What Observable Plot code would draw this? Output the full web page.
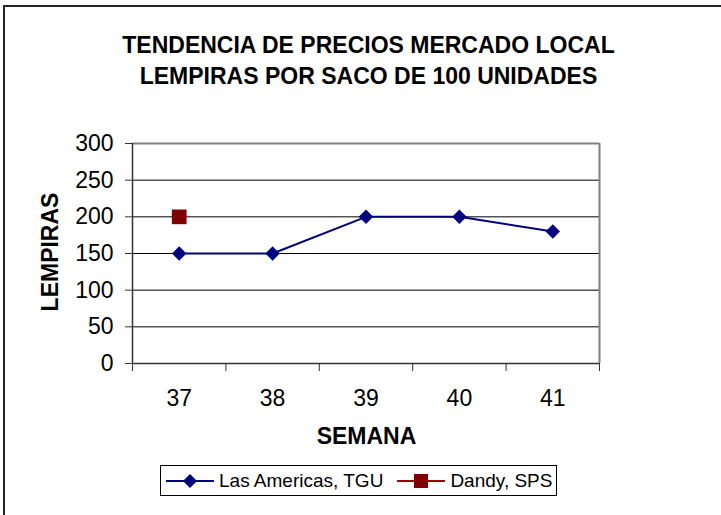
<!DOCTYPE html>
<html>
<head>
<meta charset="utf-8">
<script src="https://cdn.jsdelivr.net/npm/d3@7"></script>
<script src="https://cdn.jsdelivr.net/npm/@observablehq/plot@0.6"></script>
<style>
  html, body { margin: 0; padding: 0; background: #fff; overflow: hidden; width: 721px; height: 515px; }
  #wrap { position: relative; width: 721px; height: 515px; font-family: Arial, "Liberation Sans", sans-serif; }
  #border { position: absolute; left: 3px; top: 5px; width: 800px; height: 600px; border: 2px solid #222; box-sizing: border-box; }
  #chart { position: absolute; left: 0; top: 0; }
  .title { position: absolute; left: 0; width: 737px; text-align: center; font-weight: bold; font-size: 23px; line-height: 31px; top: 30px; color: #000; }
  .xlabel { position: absolute; left: 0; width: 733px; text-align: center; font-weight: bold; font-size: 23px; line-height: 28px; top: 422px; color: #000; }
  .ylabel { position: absolute; left: 49.5px; top: 252px; transform: translate(-50%, -50%) rotate(-90deg); font-weight: bold; font-size: 23px; line-height: 23px; white-space: nowrap; color: #000; }
  #legend { position: absolute; left: 160px; top: 465px; width: 397px; height: 31px; border: 1px solid #000; box-sizing: border-box; font-size: 19px; display: flex; align-items: center; padding-left: 5px; white-space: nowrap; }
  #legend .item { display: flex; align-items: center; }
  #legend svg { display: block; }
</style>
</head>
<body>
<div id="wrap">
  <div id="border"></div>
  <div id="chart"></div>
  <div class="title">TENDENCIA DE PRECIOS MERCADO LOCAL<br>LEMPIRAS POR SACO DE 100 UNIDADES</div>
  <div class="ylabel">LEMPIRAS</div>
  <div class="xlabel">SEMANA</div>
  <div id="legend"></div>
</div>
<script>
// ---- data ----
const weeks = [37, 38, 39, 40, 41];
const lasAmericas = [150, 150, 200, 200, 180];
const dandyWeeks = [37];
const dandy = [200];
const yTicks = [0, 50, 100, 150, 200, 250, 300];
const seriesNames = ["Las Americas, TGU", "Dandy, SPS"];
const seriesColors = ["#000080", "#800000"];

const lasData = weeks.map((w, i) => ({ week: w, price: lasAmericas[i] }));
const dandyData = dandyWeeks.map((w, i) => ({ week: w, price: dandy[i] }));
const boundaries = [...weeks.map(w => w - 0.5), weeks[weeks.length - 1] + 0.5];

const chart = Plot.plot({
  width: 721,
  height: 515,
  marginLeft: 132,
  marginRight: 122,
  marginTop: 143,
  marginBottom: 152,
  x: { domain: [boundaries[0], boundaries[boundaries.length - 1]] },
  y: { domain: [yTicks[0], yTicks[yTicks.length - 1]] },
  style: { fontFamily: "Arial, 'Liberation Sans', sans-serif", background: "transparent", color: "#000" },
  marks: [
    Plot.gridY(yTicks.slice(1, -1), { stroke: "#000", strokeOpacity: 1, strokeWidth: 1 }),
    Plot.ruleY([yTicks[yTicks.length - 1]], { stroke: "#808080", strokeWidth: 2 }),
    Plot.ruleX([boundaries[boundaries.length - 1]], { stroke: "#808080", strokeWidth: 2 }),
    Plot.ruleX([boundaries[0]], { stroke: "#333", strokeWidth: 1.5 }),
    Plot.ruleY([yTicks[0]], { stroke: "#333", strokeWidth: 1.5 }),
    Plot.axisY(yTicks, { tickSize: 7, tickPadding: 12, fontSize: 23, label: null, stroke: "#333", fill: "#000" }),
    Plot.axisX(weeks, { tickSize: 0, tickPadding: 26, fontSize: 23, label: null, fill: "#000" }),
    Plot.axisX(boundaries, { tickSize: 8, tickFormat: () => "", label: null, stroke: "#333" }),
    Plot.line(lasData, { x: "week", y: "price", stroke: seriesColors[0], strokeWidth: 2 }),
    Plot.dot(lasData, { x: "week", y: "price", symbol: "diamond2", r: 6.5, fill: seriesColors[0], stroke: "none" }),
    Plot.dot(dandyData, { x: "week", y: "price", symbol: "square", r: 8.3, fill: seriesColors[1], stroke: "none" })
  ]
});
document.getElementById("chart").appendChild(chart);

// ---- legend ----
const legend = document.getElementById("legend");
const symbols = ["diamond", "square"];
seriesNames.forEach((name, i) => {
  const item = document.createElement("div");
  item.className = "item";
  const sym = symbols[i] === "diamond"
    ? `<polygon points="24,0 31,7 24,14 17,7" fill="${seriesColors[i]}"/>`
    : `<rect x="17" y="0" width="14" height="14" fill="${seriesColors[i]}"/>`;
  item.innerHTML = `<svg width="48" height="14"><line x1="0" x2="48" y1="7" y2="7" stroke="${i === 0 ? seriesColors[0] : "#a00000"}" stroke-width="2"/>${sym}</svg><span style="margin-left:5px;margin-right:${i === 0 ? 14 : 0}px">${name}</span>`;
  legend.appendChild(item);
});
</script>
</body>
</html>
